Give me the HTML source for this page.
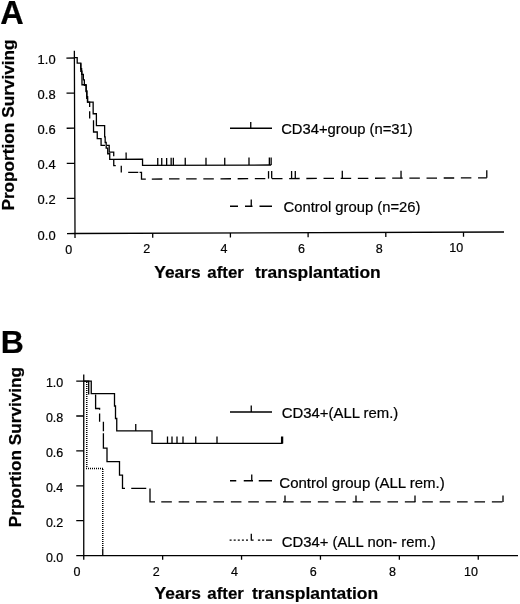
<!DOCTYPE html>
<html><head><meta charset="utf-8"><title>Figure</title>
<style>
html,body{margin:0;padding:0;background:#fff;}
svg{display:block;}
text{font-family:"Liberation Sans",Arial,Helvetica,sans-serif;fill:#000;stroke:#000;stroke-width:0.2px;}
</style></head><body>
<svg width="520" height="604" viewBox="0 0 520 604">
<rect width="520" height="604" fill="#fff"/>
<g transform="rotate(-0.2 75 233.5)" fill="none" stroke="#000" stroke-width="1.3">
<path d="M75 50.8 V233.5 H504"/>
<path d="M67 233.5 H75 M67 198.4 H75 M67 163.3 H75 M67 128.2 H75 M67 93.1 H75 M67 58 H75 M75 233.5 V238 M152.7 233.5 V238 M230.4 233.5 V238 M308.1 233.5 V238 M385.8 233.5 V238 M463.5 233.5 V238"/>
<path d="M75 57.7 H77.8 V63.2 H81.4 V68.77 H82.2 V74.34 H83.9 V79.91 H84.9 V85.49 H86.7 V91.06 H87.4 V96.63 H88.1 V102.2 H93.6 V113.8 H96.8 V125.7 H105 V136.97 H105.5 V142.6 H106.5 V148.23 H108 V153.87 H110 V159.5 H142.8 V165.7 H271.4"/>
<path d="M126.4 159.5 V152.7"/>
<path d="M158 165.7 V158.2 M162 165.7 V158.2 M166.9 165.7 V158.2 M171.4 165.7 V158.2 M173.6 165.7 V158.2 M185.5 165.7 V158.2 M206.25 165.7 V158.2 M225 165.7 V158.2 M249.25 165.7 V158.2 M269.6 165.7 V158.2 M271.4 165.7 V158.2"/>
<path d="M81.4 63.2 V71.3 H82.5 V84.8 H86.6 V91.55 H87.2 V98.3 H87.9 V102.2 H90.1 V107"/>
<path d="M90.1 111.3 V118.55 M93.9 120.35 V132.05 H97.6 V138.8 H101.4 V145.55 H105.3 M107.2 145.55 H109.5 V152.3 H114 V156.3 M114 159.55 V165.8 H116 M121.5 165.8 V172.55 M128.4 172.55 H138.5 M139.8 172.55 H141.7 V179.3 H146"/>
<path d="M152 179.3 H487" stroke-dasharray="10.5 6.67"/>
<path d="M268.75 179.3 V171.8 M271.9 179.3 V171.8 M291.8 179.3 V171.8 M295.5 179.3 V171.8 M342.5 179.3 V171.8 M401.25 179.3 V171.8 M487 179.3 V171.8"/>
</g>
<g fill="none" stroke="#000" stroke-width="1.3">
<path d="M230 128.25 H272 M250.75 128.25 V122"/>
<path d="M230 206.25 H238 M245 206.25 H252.5 M251.25 206.25 V199.5 M259.5 206.25 H272"/>
</g>
<g fill="none" stroke="#000" stroke-width="1.3">
<path d="M83.75 374.5 V555.6 H518"/>
<path d="M76.25 555.6 H83.75 M76.25 520.7 H83.75 M76.25 485.8 H83.75 M76.25 450.9 H83.75 M76.25 416 H83.75 M76.25 381.1 H83.75 M83.75 555.6 V559.8 M162.65 555.6 V559.8 M241.55 555.6 V559.8 M320.45 555.6 V559.8 M399.35 555.6 V559.8 M478.25 555.6 V559.8"/>
<path d="M83.75 381.1 H91.25 V393.56 H114.5 V406.02 H115.5 V418.48 H116.75 V430.94 H152 V443.4 H282.6"/>
<path d="M135.75 430.94 V423.94"/>
<path d="M167.5 443.4 V436.6 M172 443.4 V436.6 M177 443.4 V436.6 M183 443.4 V436.6 M195.75 443.4 V436.6 M217 443.4 V436.6 M281.6 443.4 V436.6 M282.6 443.4 V436.6"/>
<path d="M83.75 381.1 H88.7 V394.52 M95.6 394.52 V408.5 H99.6 V409.8 M99.6 413.5 V421.7 M103.4 421.7 V431.2 M103.4 433.2 V448.2 H107 V461.62 H119.5 V475.04 H122.5 V488.46 H125 M131.25 488.46 H146.25 M150 488.46 V501.88 H155"/>
<path d="M161.25 501.88 H503" stroke-dasharray="10.6 6.8"/>
<path d="M285 501.88 V495.38 M356 501.88 V495.38 M415 501.88 V495.38 M503 501.88 V495.38"/>
<path d="M86.75 382 V468" stroke-dasharray="1 1" stroke-width="1.5"/>
<path d="M86 468.5 H103" stroke-dasharray="1 1" stroke-width="1.4"/>
<path d="M102.75 469 V548" stroke-dasharray="1 1" stroke-width="1.5"/>
<path d="M102.75 548.6 V555.6"/>
</g>
<g fill="none" stroke="#000" stroke-width="1.3">
<path d="M230 412 H272 M251.25 412 V405.5"/>
<path d="M230 480.75 H236.25 M243.75 480.75 H253 M251.75 480.75 V474.5 M258.75 480.75 H272"/>
<path d="M229.6 540.1 H248" stroke-dasharray="2 2.1"/>
<path d="M251.3 540.1 V533.8 M250.7 540.1 H253.6 M257.9 540.1 H260.2 M262.1 540.1 H264.2 M266 540.1 H272"/>
</g>
<g>
<text x="0.2" y="24.4" font-size="32.5" font-weight="bold">A</text>
<text x="0.8" y="353.1" font-size="32" font-weight="bold">B</text>
<text x="55.6" y="239.5" font-size="12.4" text-anchor="end" textLength="18" lengthAdjust="spacingAndGlyphs">0.0</text>
<text x="55.6" y="204.4" font-size="12.4" text-anchor="end" textLength="18" lengthAdjust="spacingAndGlyphs">0.2</text>
<text x="55.6" y="169.3" font-size="12.4" text-anchor="end" textLength="18" lengthAdjust="spacingAndGlyphs">0.4</text>
<text x="55.6" y="134.2" font-size="12.4" text-anchor="end" textLength="18" lengthAdjust="spacingAndGlyphs">0.6</text>
<text x="55.6" y="99.1" font-size="12.4" text-anchor="end" textLength="18" lengthAdjust="spacingAndGlyphs">0.8</text>
<text x="55.6" y="64" font-size="12.4" text-anchor="end" textLength="18" lengthAdjust="spacingAndGlyphs">1.0</text>
<text x="68.75" y="253.62" font-size="12.5" text-anchor="middle">0</text>
<text x="146.8" y="253.35" font-size="12.5" text-anchor="middle">2</text>
<text x="223.9" y="253.08" font-size="12.5" text-anchor="middle">4</text>
<text x="301.4" y="252.81" font-size="12.5" text-anchor="middle">6</text>
<text x="379.2" y="252.54" font-size="12.5" text-anchor="middle">8</text>
<text x="456.2" y="252.27" font-size="12.5" text-anchor="middle">10</text>
<text x="154.3" y="277.5" font-size="17.4" font-weight="bold" textLength="46.4" lengthAdjust="spacingAndGlyphs">Years</text>
<text x="207.3" y="277.5" font-size="17.4" font-weight="bold" textLength="36.6" lengthAdjust="spacingAndGlyphs">after</text>
<text x="255" y="277.5" font-size="17.4" font-weight="bold" textLength="125.7" lengthAdjust="spacingAndGlyphs">transplantation</text>
<text x="13.8" y="210.6" font-size="16.5" font-weight="bold" textLength="171.2" lengthAdjust="spacingAndGlyphs" transform="rotate(-90 13.8 210.6)">Proportion Surviving</text>
<text x="281.2" y="134.2" font-size="15" textLength="131.5" lengthAdjust="spacingAndGlyphs">CD34+group (n=31)</text>
<text x="283.5" y="211.8" font-size="15" textLength="137" lengthAdjust="spacingAndGlyphs">Control group (n=26)</text>
<text x="63.3" y="561.8" font-size="12.4" text-anchor="end" textLength="17.4" lengthAdjust="spacingAndGlyphs">0.0</text>
<text x="63.3" y="526.9" font-size="12.4" text-anchor="end" textLength="17.4" lengthAdjust="spacingAndGlyphs">0.2</text>
<text x="63.3" y="492" font-size="12.4" text-anchor="end" textLength="17.4" lengthAdjust="spacingAndGlyphs">0.4</text>
<text x="63.3" y="457.1" font-size="12.4" text-anchor="end" textLength="17.4" lengthAdjust="spacingAndGlyphs">0.6</text>
<text x="63.3" y="422.2" font-size="12.4" text-anchor="end" textLength="17.4" lengthAdjust="spacingAndGlyphs">0.8</text>
<text x="63.3" y="387.3" font-size="12.4" text-anchor="end" textLength="17.4" lengthAdjust="spacingAndGlyphs">1.0</text>
<text x="77" y="576.1" font-size="12.5" text-anchor="middle">0</text>
<text x="156.2" y="576.1" font-size="12.5" text-anchor="middle">2</text>
<text x="234.6" y="576.1" font-size="12.5" text-anchor="middle">4</text>
<text x="313.2" y="576.1" font-size="12.5" text-anchor="middle">6</text>
<text x="392.4" y="576.1" font-size="12.5" text-anchor="middle">8</text>
<text x="471" y="576.1" font-size="12.5" text-anchor="middle">10</text>
<text x="154.6" y="598.5" font-size="17.4" font-weight="bold" textLength="46.4" lengthAdjust="spacingAndGlyphs">Years</text>
<text x="207.3" y="598.5" font-size="17.4" font-weight="bold" textLength="36.6" lengthAdjust="spacingAndGlyphs">after</text>
<text x="252" y="598.5" font-size="17.4" font-weight="bold" textLength="126.2" lengthAdjust="spacingAndGlyphs">transplantation</text>
<text x="21.3" y="527.2" font-size="17" font-weight="bold" textLength="160.2" lengthAdjust="spacingAndGlyphs" transform="rotate(-90 21.3 527.2)">Prportion Surviving</text>
<text x="281.8" y="418" font-size="14.65" textLength="116.5" lengthAdjust="spacingAndGlyphs">CD34+(ALL rem.)</text>
<text x="279.3" y="487.5" font-size="14.65" textLength="165.5" lengthAdjust="spacingAndGlyphs">Control group (ALL rem.)</text>
<text x="281.8" y="547.3" font-size="14.65" textLength="154" lengthAdjust="spacingAndGlyphs">CD34+ (ALL non- rem.)</text>
</g>
</svg>
</body></html>
